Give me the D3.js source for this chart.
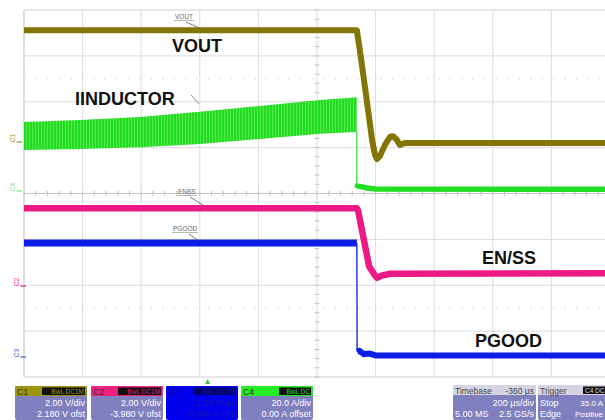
<!DOCTYPE html>
<html><head><meta charset="utf-8">
<script src="https://cdn.jsdelivr.net/npm/d3@7"></script>
<style>
html,body{margin:0;padding:0;background:#fff;}
svg{display:block;font-family:"Liberation Sans",Arial,sans-serif;}
</style></head>
<body>
<svg id="c" width="605" height="420"></svg>
<script>
// ---- Data (time in µs from left edge, amplitude in screen divisions, 0 = centre) ----
const voutT = [0, 1136, 1150, 1165, 1188, 1198, 1205, 1215, 1232, 1250, 1259, 1270, 1283, 1300, 1330, 2000];
const voutV = [3.56, 3.56, 2.96, 2.26, 1.17, 0.84, 0.75, 0.82, 1.06, 1.24, 1.25, 1.19, 1.06, 1.10, 1.10, 1.10];

const iindT    = [0, 191, 396, 601, 805, 1010, 1136];
const iindTop  = [1.56, 1.60, 1.67, 1.78, 1.91, 2.04, 2.10];
const iindBot  = [0.95, 0.97, 1.01, 1.08, 1.19, 1.30, 1.34];
const iindPostT = [1136, 1138, 1150, 1170, 1200, 2000];
const iindPostV = [0.12, 0.16, 0.15, 0.12, 0.10, 0.09];

const enssT = [0, 1136, 1140, 1178, 1198, 1205, 1220, 1250, 2000];
const enssV = [-0.32, -0.32, -0.37, -1.59, -1.79, -1.84, -1.79, -1.75, -1.74];

const pgoodT = [0, 1136, 1137, 1145, 1160, 1180, 1200, 2000];
const pgoodV = [-1.08, -1.08, -3.45, -3.43, -3.50, -3.49, -3.53, -3.53];

const bigLabels = ["VOUT", "IINDUCTOR", "EN/SS", "PGOOD"];
const smallLabels = ["VOUT", "ENSS", "PGOOD"];
const chanNames = ["C1", "C2", "C3", "C4"];
const chanScale = ["2.00 V/div", "2.00 V/div", "", "20.0 A/div"];
const chanOffset = ["2.180 V ofst", "-3.980 V ofst", "", "0.00 A offset"];
const chanBadge = ["BwL DC1M", "BwL DC1M", "BwL DC1M", "BwL DC"];
const timebase = ["Timebase", "-360 µs", "200 µs/div", "5.00 MS", "2.5 GS/s"];
const trigger = ["Trigger", "C4 DC", "Stop", "35.0 A", "Edge", "Positive"];

// ---- Scales ----
const x = d3.scaleLinear().domain([0, 2000]).range([24, 610]);
const y = d3.scaleLinear().domain([-4, 4]).range([377, 10]);
const svg = d3.select("#c");

// grid
const g = svg.append("g");
const xt = d3.range(0, 2001, 200), yt = d3.range(-4, 5, 1);
g.selectAll(".vg").data(xt).join("line")
  .attr("x1", d => x(d)).attr("x2", d => x(d)).attr("y1", y(4)).attr("y2", y(-4))
  .attr("stroke", d => d === 0 ? "#bdbdbd" : "#dcdcdc").attr("stroke-width", 1);
g.selectAll(".hg").data(yt).join("line")
  .attr("x1", x(0)).attr("x2", 605).attr("y1", d => y(d)).attr("y2", d => y(d))
  .attr("stroke", d => (d === -4 || d === 4) ? "#cfcfcf" : (d === 0 ? "#c4c4c4" : "#dcdcdc")).attr("stroke-width", 1);
// dotted marks
[2.5, -2.5].forEach(v => g.append("line").attr("x1", x(0)).attr("x2", 605)
  .attr("y1", y(v)).attr("y2", y(v)).attr("stroke", "#d0d0d0").attr("stroke-dasharray", "1.5,10"));
// minor ticks on centre axes
g.selectAll(".mt").data(d3.range(-4, 4.01, 0.2)).join("line")
  .attr("x1", x(1000) - 2.5).attr("x2", x(1000) + 2.5).attr("y1", d => y(d)).attr("y2", d => y(d))
  .attr("stroke", "#c4c4c4");
g.selectAll(".mt2").data(d3.range(0, 2001, 40)).join("line")
  .attr("x1", d => x(d)).attr("x2", d => x(d)).attr("y1", y(0) - 2.5).attr("y2", y(0) + 2.5)
  .attr("stroke", "#c4c4c4");

// small annotation labels
const ann = [
  {t: smallLabels[0], x: 175, y: 19, lx1: 186, ly1: 22, lx2: 204, ly2: 30},
  {t: smallLabels[1], x: 178, y: 194, lx1: 190, ly1: 197, lx2: 203, ly2: 205},
  {t: smallLabels[2], x: 173, y: 231, lx1: 189, ly1: 234, lx2: 199, ly2: 241}
];
ann.forEach(a => {
  const tx = svg.append("text").attr("x", a.x).attr("y", a.y).attr("font-size", 6.5)
    .attr("fill", "#666").text(a.t);
  const w = tx.node().getComputedTextLength();
  svg.append("line").attr("x1", a.x - 1).attr("x2", a.x + w + 1).attr("y1", a.y + 1.5).attr("y2", a.y + 1.5)
    .attr("stroke", "#888").attr("stroke-width", 0.6);
  svg.append("line").attr("x1", a.lx1).attr("y1", a.ly1).attr("x2", a.lx2).attr("y2", a.ly2)
    .attr("stroke", "#555").attr("stroke-width", 0.8);
});
svg.append("line").attr("x1", 191).attr("y1", 95).attr("x2", 199).attr("y2", 104)
  .attr("stroke", "#777").attr("stroke-width", 0.8);

// ---- Traces ----
const line = d3.line().x(d => x(d[0])).y(d => y(d[1]));
const defs = svg.append("defs");
const pat = defs.append("pattern").attr("id", "rip").attr("patternUnits", "userSpaceOnUse")
  .attr("width", 3).attr("height", 6);
pat.append("rect").attr("width", 3).attr("height", 6).attr("fill", "#22dc22");
pat.append("rect").attr("x", 2).attr("width", 1).attr("height", 6).attr("fill", "#55e84a");

// IINDUCTOR band
const band = iindT.map((t, i) => [t, iindTop[i], iindBot[i]]);
svg.append("path").datum(band)
  .attr("d", d3.area().x(d => x(d[0])).y0(d => y(d[2])).y1(d => y(d[1])))
  .attr("fill", "url(#rip)");
svg.append("line").attr("x1", x(1136)).attr("x2", x(1136))
  .attr("y1", y(iindBot[iindBot.length - 1])).attr("y2", y(iindPostV[0]))
  .attr("stroke", "#22de22").attr("stroke-width", 1.2);
svg.append("path").datum(iindPostT.map((t, i) => [t, iindPostV[i]]))
  .attr("d", line).attr("fill", "none").attr("stroke", "#22de22").attr("stroke-width", 5.5);

// VOUT
svg.append("path").datum(voutT.map((t, i) => [t, voutV[i]]))
  .attr("d", line).attr("fill", "none").attr("stroke", "#827506").attr("stroke-width", 6)
  .attr("stroke-linejoin", "round");

// EN/SS
svg.append("path").datum(enssT.map((t, i) => [t, enssV[i]]))
  .attr("d", line).attr("fill", "none").attr("stroke", "#ec1a84").attr("stroke-width", 6.5)
  .attr("stroke-linejoin", "round");

// PGOOD
const pg = pgoodT.map((t, i) => [t, pgoodV[i]]);
svg.append("path").datum(pg.slice(0, 2)).attr("d", line).attr("fill", "none")
  .attr("stroke", "#0a1ee6").attr("stroke-width", 7);
svg.append("path").datum(pg.slice(1, 3)).attr("d", line).attr("fill", "none")
  .attr("stroke", "#0a1ee6").attr("stroke-width", 1.3);
svg.append("path").datum(pg.slice(2)).attr("d", line).attr("fill", "none")
  .attr("stroke", "#0a1ee6").attr("stroke-width", 6);

// ---- Big labels ----
const bl = [[172, 52], [75, 105], [482, 264], [475, 347]];
bigLabels.forEach((t, i) => svg.append("text").attr("x", bl[i][0]).attr("y", bl[i][1])
  .attr("font-size", 18).attr("font-weight", "bold").attr("fill", "#111").text(t));

// ---- Channel ground markers ----
const mk = [
  {t: "C1", x: 15, y: 138, c: "#9a9020"},
  {t: "C4", x: 15, y: 187, c: "#7be07b"},
  {t: "C2", x: 19, y: 282, c: "#ec1a84"},
  {t: "C3", x: 19, y: 353, c: "#4a5ad0"}
];
mk.forEach(m => {
  svg.append("text").attr("transform", `translate(${m.x},${m.y}) rotate(-90)`)
    .attr("text-anchor", "middle").attr("font-size", 6.5).attr("fill", m.c).text(m.t);
  svg.append("line").attr("x1", m.x + 1.5).attr("x2", m.x + 7).attr("y1", m.y + 4).attr("y2", m.y + 4)
    .attr("stroke", m.c).attr("stroke-width", 1.2);
});

// trigger marker
svg.append("path").attr("d", `M${x(627)-2.5},384 L${x(627)+2.5},384 L${x(627)},379 Z`).attr("fill", "#3cc83c");

// ---- Channel boxes ----
const boxX = [15, 91, 166, 241];
const headCol = ["#9d9414", "#f0207f", "#0000ee", "#22ee22"];
const bodyCol = ["#8080c0", "#8080c0", "#0000ee", "#8080c0"];
const badgeTxt = ["#a09418", "#e0207a", "#1a1a90", "#22dd22"];
chanNames.forEach((n, i) => {
  const bx = boxX[i], w = 72;
  svg.append("rect").attr("x", bx).attr("y", 386).attr("width", w).attr("height", 34).attr("rx", 2)
    .attr("fill", bodyCol[i]);
  svg.append("rect").attr("x", bx).attr("y", 386).attr("width", w).attr("height", 10).attr("rx", 1)
    .attr("fill", headCol[i]);
  svg.append("text").attr("x", bx + 2).attr("y", 394.5).attr("font-size", 8.5)
    .attr("fill", i === 2 ? "#000090" : "#333").text(n);
  const bw = i === 3 ? 32 : 43;
  svg.append("rect").attr("x", bx + w - bw - 2).attr("y", 387.5).attr("width", bw).attr("height", 7.5)
    .attr("fill", i === 2 ? "#000070" : "#111");
  svg.append("text").attr("x", bx + w - 3).attr("y", 394).attr("text-anchor", "end").attr("font-size", 6.5)
    .attr("fill", badgeTxt[i]).text(chanBadge[i]);
  const tc = i === 2 ? "#1a1aa8" : "#fff";
  svg.append("text").attr("x", bx + w - 2).attr("y", 406).attr("text-anchor", "end").attr("font-size", 9)
    .attr("fill", tc).text(i === 2 ? "2.00 V/div" : chanScale[i]);
  svg.append("text").attr("x", bx + w - 2).attr("y", 417).attr("text-anchor", "end").attr("font-size", 9)
    .attr("fill", tc).text(i === 2 ? "0.000 V ofst" : chanOffset[i]);
});

// Timebase box
svg.append("rect").attr("x", 453).attr("y", 385).attr("width", 83).attr("height", 35).attr("rx", 2).attr("fill", "#8080c0");
svg.append("rect").attr("x", 453).attr("y", 385).attr("width", 83).attr("height", 10).attr("fill", "#d4d4e4");
svg.append("text").attr("x", 455).attr("y", 393.5).attr("font-size", 8.5).attr("fill", "#444").text(timebase[0]);
svg.append("text").attr("x", 534).attr("y", 393.5).attr("text-anchor", "end").attr("font-size", 8.5).attr("fill", "#444").text(timebase[1]);
svg.append("text").attr("x", 534).attr("y", 406).attr("text-anchor", "end").attr("font-size", 9).attr("fill", "#fff").text(timebase[2]);
svg.append("text").attr("x", 455).attr("y", 417).attr("font-size", 9).attr("fill", "#fff").text(timebase[3]);
svg.append("text").attr("x", 534).attr("y", 417).attr("text-anchor", "end").attr("font-size", 9).attr("fill", "#fff").text(timebase[4]);

// Trigger box
svg.append("rect").attr("x", 538).attr("y", 385).attr("width", 80).attr("height", 35).attr("rx", 2).attr("fill", "#8080c0");
svg.append("rect").attr("x", 538).attr("y", 385).attr("width", 80).attr("height", 10).attr("fill", "#d4d4e4");
svg.append("text").attr("x", 540).attr("y", 393.5).attr("font-size", 8.5).attr("fill", "#444").text(trigger[0]);
svg.append("rect").attr("x", 583).attr("y", 386.5).attr("width", 30).attr("height", 7.5).attr("fill", "#111");
svg.append("text").attr("x", 585).attr("y", 393).attr("font-size", 6.5).attr("fill", "#ddd").text(trigger[1]);
svg.append("text").attr("x", 540).attr("y", 406).attr("font-size", 9).attr("fill", "#fff").text(trigger[2]);
svg.append("text").attr("x", 603).attr("y", 406).attr("text-anchor", "end").attr("font-size", 8).attr("fill", "#fff").text(trigger[3]);
svg.append("text").attr("x", 540).attr("y", 417).attr("font-size", 9).attr("fill", "#fff").text(trigger[4]);
svg.append("text").attr("x", 603).attr("y", 417).attr("text-anchor", "end").attr("font-size", 8).attr("fill", "#fff").text(trigger[5]);
</script>
</body></html>
